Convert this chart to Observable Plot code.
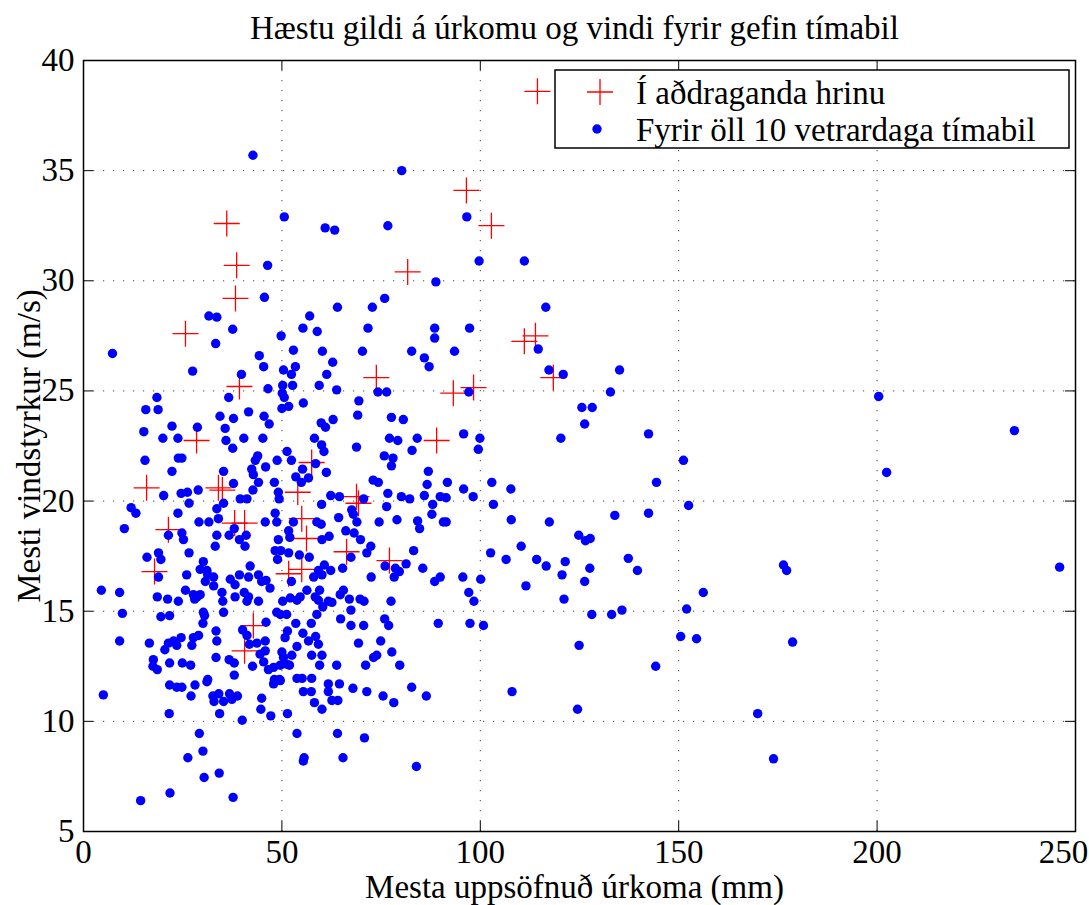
<!DOCTYPE html>
<html>
<head>
<meta charset="utf-8">
<script src="https://cdn.jsdelivr.net/npm/d3@7"></script>
<script src="https://cdn.jsdelivr.net/npm/@observablehq/plot@0.6"></script>
<style>
  html, body { margin: 0; padding: 0; background: #fff; }
  #chart svg { display: block; }
</style>
</head>
<body>
<div id="chart"></div>
<script>
// Chart text
const title = "Hæstu gildi á úrkomu og vindi fyrir gefin tímabil";
const xLabel = "Mesta uppsöfnuð úrkoma (mm)";
const yLabel = "Mesti vindstyrkur (m/s)";
const seriesNames = ["Í aðdraganda hrinu", "Fyrir öll 10 vetrardaga tímabil"];

// Axis ticks
const xTicks = [0, 50, 100, 150, 200, 250];
const yTicks = [5, 10, 15, 20, 25, 30, 35, 40];

// Periods leading up to an earthquake swarm: [max accumulated precipitation (mm), max wind speed (m/s)]
const swarmPeriods = [
  [114.4,38.6],[96.5,34.1],[102.8,32.5],[36.1,32.6],[38.6,30.7],[38.3,29.2],[81.7,30.4],
  [25.7,27.6],[111.1,27.25],[113.9,27.5],[39.3,25.2],[73.8,25.6],[93.2,24.9],[98.3,25.15],
  [118.4,25.6],[28.5,22.75],[89,22.75],[15.9,20.6],[34,20.6],[35,20.5],[57.5,21.75],
  [54,20.4],[68.8,20.2],[69.3,19.9],[21.4,18.7],[38.1,19.0],[40.6,19.0],[55,19.2],
  [56.2,18.3],[66.3,17.7],[77.1,17.3],[17.9,16.8],[51.7,16.7],[55,16.9],[42.8,14.35],[40.6,13.2]
];

// All 10-day winter periods: [max accumulated precipitation (mm), max wind speed (m/s)]
const allPeriods = [
  [42.7,35.7],[80.2,35.0],[50.6,32.9],[60.9,32.4],[63.3,32.3],[76.7,32.5],[96.6,32.9],
  [99.7,30.9],[111.1,30.9],[46.4,30.7],[88.8,29.95],[45.6,29.25],[75.9,29.2],[57.0,28.4],
  [64.0,28.8],[72.8,28.8],[116.5,28.8],[31.6,28.4],[33.6,28.35],[37.6,27.8],[33.3,27.15],
  [7.3,26.7],[27.5,25.9],[39.8,25.75],[44.3,26.6],[45.4,26.1],[18.5,24.7],[15.7,24.15],
  [18.8,24.15],[36.6,24.7],[41.6,24.05],[45.5,23.85],[34.4,23.85],[37.8,23.75],[22.3,23.4],
  [15.2,23.15],[28.7,23.35],[35.7,23.3],[20.0,22.85],[23.8,22.85],[35.9,22.75],[40.4,22.85],
  [45.2,22.85],[37.6,22.4],[15.5,21.85],[23.9,21.95],[24.8,21.95],[22.3,21.35],[35.3,21.35],
  [43.9,22.05],[43.3,21.85],[42.4,21.45],[42.8,21.2],[44.1,20.85],[37.8,20.8],[28.9,20.5],
  [20.2,20.25],[24.6,20.35],[26.2,20.4],[42.7,20.5],[39.5,20.1],[41.2,20.1],
  [55.3,27.85],[58.9,27.7],[71.7,27.85],[88.5,27.85],[88.5,27.4],[49.8,27.5],[52.9,26.85],
  [60.2,26.8],[70.3,26.8],[82.7,26.8],[85.9,26.5],[87.1,26.1],[62.8,26.3],[53.4,26.1],
  [50.4,25.95],[52.4,25.75],[61.3,25.75],[46.5,25.1],[50.2,25.25],[52.7,25.25],[59.4,25.25],
  [63.8,25.05],[50.1,24.9],[50.6,24.7],[74.2,24.95],[76.4,24.95],[69.4,24.55],[55.4,24.45],
  [50.0,24.2],[51.7,24.3],[69.1,23.9],[77.6,23.8],[80.6,23.7],[46.8,23.5],[62.9,23.7],
  [59.9,23.55],[61.0,23.35],[58.2,22.85],[60.0,22.55],[60.6,22.25],[68.8,22.45],[77.1,22.85],
  [79.2,22.75],[84.1,22.85],[82.8,22.3],[75.8,22.05],[78.0,21.95],[77.6,21.6],[51.3,22.25],
  [48.8,21.85],[52.4,21.85],[45.9,21.55],[55.2,21.45],[58.5,21.7],[61.2,21.3],[53.5,21.1],
  [54.9,20.85],[56.7,21.05],[48.1,20.85],[49.1,20.4],[73.0,20.95],[74.3,20.85],[86.9,21.35],
  [86.6,20.75],[76.7,20.35],[80.1,20.2],[82.2,20.1],[85.9,20.25],[62.3,20.25],[64.5,20.2],
  [70.6,20.1],[49.3,20.1],[89.9,20.2],
  [97.3,27.85],[93.5,26.8],[114.6,26.9],[117.3,25.95],[120.9,25.75],[135.1,25.95],[97.1,24.95],
  [132.8,24.95],[125.6,24.25],[128.2,24.25],[126.3,23.5],[120.3,22.85],[95.8,23.05],[99.9,22.85],
  [99.5,22.35],[91.7,20.85],[95.8,20.55],[102.9,20.85],[107.7,20.55],[98.2,20.2],[91.4,20.15],
  [12.0,19.7],[13.2,19.45],[23.8,19.45],[26.6,19.9],[10.3,18.75],[29.1,19.05],[31.6,19.05],
  [33.6,19.65],[34.0,19.2],[35.3,19.9],[21.4,18.45],[24.8,18.55],[25.2,18.25],[33.6,18.45],
  [33.2,17.95],[36.7,18.45],[38.0,18.75],[39.3,18.25],[41.0,18.45],[40.7,17.95],[18.9,17.65],
  [19.5,17.35],[16.0,17.45],[26.6,17.65],[30.2,17.25],[29.4,16.9],[31.1,16.85],[31.3,16.65],
  [30.7,16.35],[32.8,16.55],[32.8,16.15],[26.0,16.65],[18.9,16.55],[42.0,17.05],[39.3,16.65],
  [37.0,16.45],[38.2,16.2],[41.6,16.55],[44.1,16.65],[44.9,16.35],[4.5,15.95],[9.1,15.85],
  [18.6,15.65],[21.2,15.55],[23.9,15.45],[25.7,15.95],[27.7,15.75],[28.6,15.65],[29.4,15.75],
  [28.0,15.55],[34.9,15.85],[35.1,15.45],[35.3,14.95],[38.2,15.65],[40.5,15.85],[41.2,15.45],
  [41.6,15.65],[44.1,15.45],[9.8,14.9],[19.5,14.75],[21.7,14.8],[30.2,14.95],[30.5,14.8],
  [30.1,14.45],[9.1,13.65],[16.6,13.55],[20.5,13.25],[21.4,13.55],[22.7,13.65],[23.5,13.45],
  [24.6,13.8],[27.3,13.45],[27.7,13.8],[29.0,13.9],[33.4,14.1],[33.6,13.65],[40.1,14.15],
  [41.2,13.9],[41.8,13.5],[43.7,13.55],[44.5,13.05],[17.6,12.8],[17.5,12.5],[18.6,12.35],
  [21.7,12.65],[24.9,12.65],[27.0,12.55],[33.4,12.9],[36.7,12.8],[38.0,12.65],[42.6,12.5],
  [38.0,12.1],[31.3,11.9],
  [60.0,19.85],[76.4,19.75],[88.0,19.85],[87.8,19.4],[90.7,19.05],[48.3,19.45],[45.8,19.05],
  [48.7,19.05],[52.9,19.05],[58.8,19.05],[59.9,18.95],[64.3,19.25],[67.6,19.6],[68.0,19.4],
  [68.9,19.05],[74.5,19.05],[79.0,19.15],[84.2,19.1],[84.7,18.75],[51.7,18.65],[52.0,18.35],
  [49.1,18.25],[60.1,18.25],[61.9,18.4],[66.1,18.65],[68.2,18.55],[69.8,18.25],[72.4,17.95],
  [71.4,17.65],[48.3,17.75],[49.7,17.75],[51.7,17.65],[54.4,17.55],[56.9,17.45],[48.9,17.35],
  [67.4,17.45],[83.2,17.75],[81.3,17.15],[76.0,17.05],[78.6,16.95],[79.6,16.8],[78.3,16.55],
  [85.5,16.95],[60.7,17.1],[62.3,16.85],[59.2,16.85],[60.1,16.65],[58.0,16.55],[65.3,16.95],
  [72.5,16.55],[46.0,16.4],[47.0,16.05],[52.4,16.35],[56.3,15.95],[59.5,15.95],[65.5,15.95],
  [64.7,15.75],[50.2,15.45],[52.1,15.6],[53.8,15.5],[54.6,15.65],[58.4,15.65],[59.2,15.5],
  [61.7,15.45],[62.6,15.4],[67.0,15.55],[69.7,15.55],[70.7,15.45],[77.5,15.45],[88.5,16.35],
  [89.9,16.55],[60.3,15.2],[58.8,14.85],[48.7,14.95],[49.6,14.85],[51.2,14.85],[46.0,14.5],
  [53.5,14.45],[57.4,14.45],[67.4,15.05],[64.8,14.65],[67.4,14.35],[70.6,14.35],[75.9,14.65],
  [76.9,14.35],[89.4,14.45],[51.4,14.1],[50.8,13.8],[55.3,14.0],[56.7,13.65],[58.5,13.85],
  [59.2,13.5],[53.8,13.4],[45.8,13.65],[45.8,13.2],[50.0,13.15],[50.4,12.9],[52.5,13.0],
  [57.5,13.0],[60.1,13.0],[69.3,13.55],[74.9,13.65],[77.7,13.15],[73.9,13.0],[73.1,12.9],
  [59.5,12.55],[63.8,12.55],[71.1,12.55],[79.7,12.55],[46.6,12.35],[47.9,12.45],[49.6,12.55],
  [51.2,12.6],[51.9,12.55],[45.4,12.7],[53.8,11.95],[55.1,11.95],[57.5,11.95],[48.1,11.9],
  [49.4,11.9],
  [103.3,19.85],[133.9,19.35],[91.4,19.05],[107.8,19.15],[117.4,19.05],[124.8,18.45],[126.5,18.2],
  [127.7,18.3],[110.3,17.95],[102.6,17.65],[106.5,17.35],[114.2,17.35],[116.6,17.05],[121.4,17.25],
  [120.6,16.65],[127.6,16.95],[126.3,16.35],[95.6,16.55],[100.1,16.45],[111.5,16.15],[97.1,15.85],
  [98.4,15.45],[121.1,15.55],[135.7,15.05],[128.1,14.85],[133.1,14.85],[97.4,14.45],[100.8,14.35],
  [124.9,13.45],
  [5.0,11.2],[21.7,11.65],[23.5,11.55],[24.8,11.55],[28.1,11.65],[31.1,11.8],[27.1,11.15],
  [32.6,11.15],[34.1,11.25],[32.9,10.9],[35.3,10.9],[36.8,11.25],[37.4,11.0],[38.8,11.15],
  [44.9,11.05],[44.7,10.55],[21.6,10.35],[34.3,10.35],[40.0,10.05],[29.2,9.45],[30.1,8.65],
  [26.3,8.35],[34.2,7.65],[30.4,7.45],[21.8,6.75],[14.4,6.4],[37.7,6.55],
  [47.9,11.7],[49.6,11.85],[61.7,11.7],[64.5,11.7],[67.9,11.5],[71.4,11.35],[82.7,11.55],
  [86.4,11.15],[75.5,11.15],[78.2,10.85],[55.4,11.35],[57.4,11.35],[61.7,11.35],[58.2,10.85],
  [62.6,10.95],[64.1,10.95],[60.1,10.55],[47.2,10.25],[51.4,10.35],[53.8,9.45],[64.0,9.45],
  [70.8,9.25],[55.6,8.35],[55.4,8.2],[65.4,8.35],[83.9,7.95],[108.0,11.35],[124.5,10.55],
  [142.4,23.05],[151.2,21.85],[144.4,20.85],[142.4,19.45],[152.5,19.8],[137.3,17.4],[139.6,16.85],
  [152.0,15.1],[156.2,15.85],[150.5,13.85],[154.5,13.75],[144.2,12.5],[169.9,10.35],[173.9,8.3],
  [176.4,17.1],[177.2,16.85],[178.7,13.6],[200.4,24.75],[202.4,21.3],[234.6,23.2],[246.0,17.0]
];

// Thin "+" marker, drawn as two strokes
const thinPlus = {
  draw(context, size) {
    const r = Math.sqrt(size / Math.PI);
    context.moveTo(-r, 0); context.lineTo(r, 0);
    context.moveTo(0, -r); context.lineTo(0, r);
  }
};

const W = 1089, H = 905;
const mL = 83, mR = 14, mT = 60, mB = 74;
const frameW = W - mL - mR, frameH = H - mT - mB;
const tickLen = 10;
const font = "Liberation Serif, Times New Roman, serif";
const fs = 33;
const lastTick = xTicks[xTicks.length - 1];

const chart = Plot.plot({
  width: W,
  height: H,
  marginLeft: mL,
  marginRight: mR,
  marginTop: mT,
  marginBottom: mB,
  style: {fontFamily: font, fontSize: fs + "px", background: "#fff", color: "#000"},
  x: {domain: [0, 250]},
  y: {domain: [5, 40]},
  marks: [
    // dotted grid
    Plot.gridX(xTicks, {stroke: "#000", strokeOpacity: 0.75, strokeDasharray: "1.2,8.8"}),
    Plot.gridY(yTicks, {stroke: "#000", strokeOpacity: 0.75, strokeDasharray: "1.2,8.8"}),
    // inward ticks on all four sides
    Plot.tickX(xTicks, {x: d => d, insetTop: frameH - tickLen, stroke: "#000"}),
    Plot.tickX(xTicks, {x: d => d, insetBottom: frameH - tickLen, stroke: "#000"}),
    Plot.tickY(yTicks, {y: d => d, insetLeft: frameW - tickLen, stroke: "#000"}),
    Plot.tickY(yTicks, {y: d => d, insetRight: frameW - tickLen, stroke: "#000"}),
    // tick labels; the last x label is nudged inward so it stays on the page
    Plot.axisX({ticks: xTicks.slice(0, -1), tickSize: 0, tickPadding: 8, label: null}),
    Plot.axisX({ticks: [lastTick], tickSize: 0, tickPadding: 8, label: null, dx: -12}),
    Plot.axisY({ticks: yTicks, tickSize: 0, tickPadding: 9, label: null}),
    // swarm periods (red +), then all periods (blue dots)
    Plot.dot(swarmPeriods, {x: d => d[0], y: d => d[1], r: 13, symbol: thinPlus, stroke: "#ff0000", strokeWidth: 1.3, fill: "none"}),
    Plot.dot(allPeriods, {x: d => d[0], y: d => d[1], r: 4.7, fill: "#0000ff", stroke: "none"}),
    Plot.frame({stroke: "#000", strokeWidth: 1.5}),
    // titles
    Plot.text([title], {text: d => d, frameAnchor: "top", dy: -32, dx: -5, fontSize: fs, textAnchor: "middle", lineAnchor: "middle"}),
    Plot.text([xLabel], {text: d => d, frameAnchor: "bottom", dy: 56, dx: -5, fontSize: fs, textAnchor: "middle", lineAnchor: "middle"}),
    Plot.text([yLabel], {text: d => d, frameAnchor: "left", dx: -54, rotate: -90, fontSize: fs, textAnchor: "middle", lineAnchor: "middle"})
  ]
});

// Legend box in the top-right corner of the plot area
const svg = d3.select(chart);
const lg = svg.append("g").attr("font-family", font).attr("font-size", fs).attr("text-anchor", "start");
lg.append("rect").attr("x", 555).attr("y", 70).attr("width", 514).attr("height", 78)
  .attr("fill", "#fff").attr("stroke", "#000").attr("stroke-width", 1.5);
lg.append("path").attr("d", "M587,92H613M600,79V105").attr("stroke", "#ff0000").attr("stroke-width", 1.3);
lg.append("circle").attr("cx", 597).attr("cy", 129).attr("r", 4.7).attr("fill", "#0000ff");
lg.append("text").attr("x", 636).attr("y", 92).attr("dy", "0.35em").text(seriesNames[0]);
lg.append("text").attr("x", 636).attr("y", 129).attr("dy", "0.35em").text(seriesNames[1]);

document.getElementById("chart").appendChild(chart);
</script>
</body>
</html>
